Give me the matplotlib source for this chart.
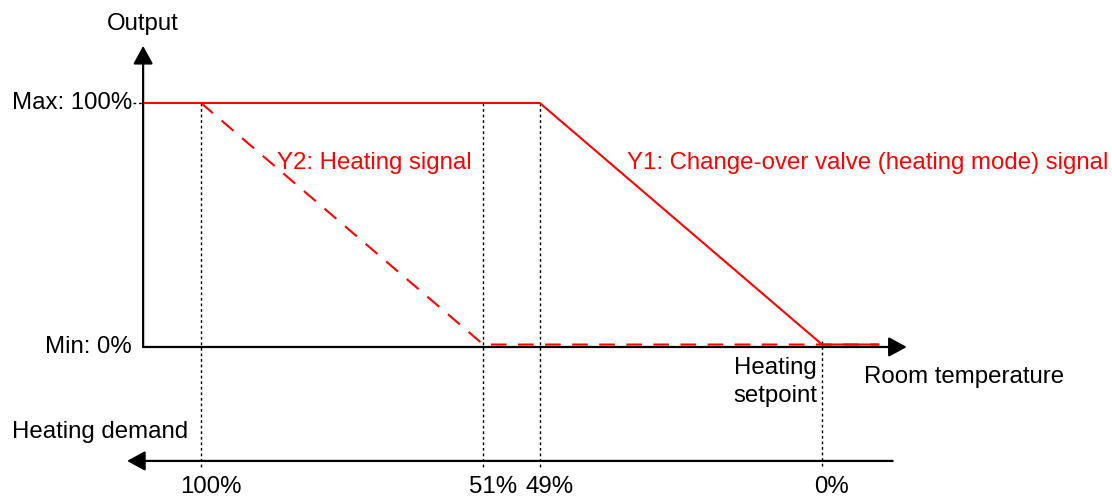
import matplotlib.pyplot as plt

plt.rcParams['font.family'] = ['Liberation Sans', 'DejaVu Sans']

# Room temperature positions (arbitrary units) and output levels in %
demand_labels = ['100%', '51%', '49%', '0%']
demand_pos = [0, 10, 12, 22]

y1_temp = [-2, 12, 22, 24]
y1_out = [100, 100, 1, 1]

y2_temp = [0, 10, 24]
y2_out = [100, 1, 1]

out_levels = [100, 0]
out_labels = ['Max: 100%', 'Min: 0%']

RED = '#ff0000'
FS = 17.3

fig = plt.figure(figsize=(11.12, 4.99), dpi=100)
ax = fig.add_axes([0, 0, 1, 1])
ax.set_xlim(-7.12, 32.27)
ax.set_ylim(-62.3, 142.2)
ax.axis('off')

# axes arrows
arrow = dict(arrowstyle='-|>,head_length=0.55,head_width=0.3', mutation_scale=20,
             color='black', lw=1.6, shrinkA=0, shrinkB=0)
ax.annotate('', xy=(-2.05, 123.4), xytext=(-2.05, 0), arrowprops=arrow)
ax.annotate('', xy=(25.0, 0), xytext=(-2.05, 0), arrowprops=arrow)
ax.annotate('', xy=(-2.62, -46.7), xytext=(24.5, -46.7), arrowprops=arrow)

# dotted guides
dot = dict(color='black', lw=1, linestyle=(0, (2, 2)))
for p in demand_pos:
    top = 100 if p != demand_pos[-1] else 2.6
    ax.plot([p, p], [top, -49], **dot)
ax.plot([-2.4, -2.05], [100, 100], **dot)

# signals
ax.plot(y1_temp, y1_out, color=RED, lw=1.5, solid_joinstyle='miter', zorder=5)
ax.plot(y2_temp, y2_out, color=RED, lw=1.5, dashes=(7.5, 5.5), zorder=5)

# texts
ax.text(-2.05, 132.4, 'Output', ha='center', va='center', fontsize=FS)
for lv, lab in zip(out_levels, out_labels):
    ax.text(-2.45, lv, lab, ha='right', va='center', fontsize=FS)
ax.text(2.7, 75.4, 'Y2: Heating signal', ha='left', va='center', fontsize=FS, color=RED)
ax.text(15.1, 75.4, 'Y1: Change-over valve (heating mode) signal', ha='left',
        va='center', fontsize=FS, color=RED)
ax.text(20.33, -14.3, 'Heating\nsetpoint', ha='center', va='center', fontsize=FS,
        linespacing=1.35)
ax.text(23.5, -12.3, 'Room temperature', ha='left', va='center', fontsize=FS)
ax.text(-6.7, -34.8, 'Heating demand', ha='left', va='center', fontsize=FS)
for p, lab in zip(demand_pos, demand_labels):
    ax.text(p + 0.35, -57.4, lab, ha='center', va='center', fontsize=FS)

fig.savefig('out.png', dpi=100)
